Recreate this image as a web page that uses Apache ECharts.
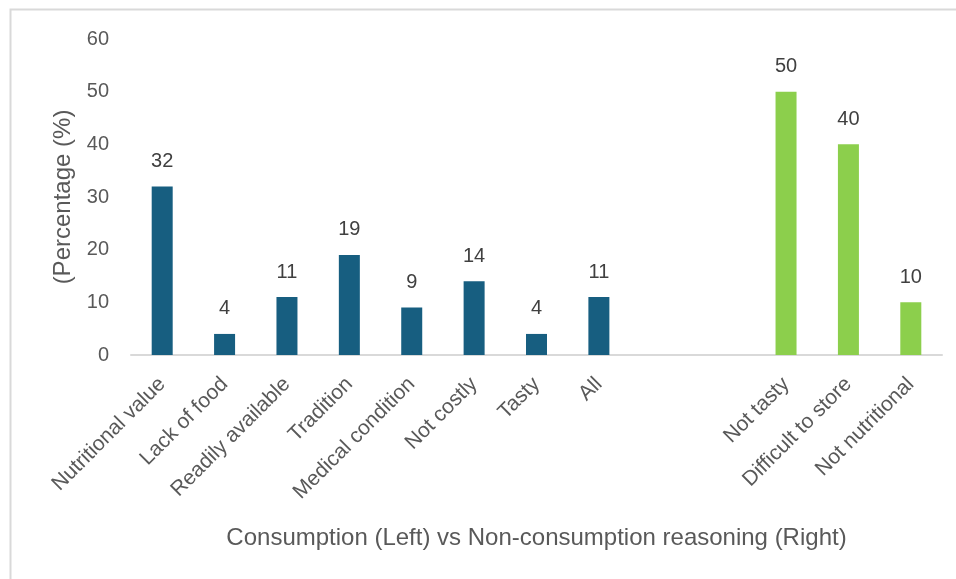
<!DOCTYPE html>
<html>
<head>
<meta charset="utf-8">
<script src="https://cdn.jsdelivr.net/npm/echarts@6/dist/echarts.min.js"></script>
<style>
  html, body { margin: 0; padding: 0; background: #ffffff; }
  #chart { width: 956px; height: 579px; }
</style>
</head>
<body>
<div id="chart"></div>
<script>
// Reasons given for consuming (left group) and not consuming (right group)
const categories = [
  'Nutritional value', 'Lack of food', 'Readily available', 'Tradition',
  'Medical condition', 'Not costly', 'Tasty', 'All',
  ' ', '  ',
  'Not tasty', 'Difficult to store', 'Not nutritional'
];
const consumptionValues = [32, 4, 11, 19, 9, 14, 4, 11, '-', '-', '-', '-', '-'];
const nonConsumptionValues = ['-', '-', '-', '-', '-', '-', '-', '-', '-', '-', 50, 40, 10];
const yTicks = { min: 0, max: 60, interval: 10 };

const textColor = '#595959';
const fontFamily = 'Liberation Sans, Arial, sans-serif';

const chart = echarts.init(document.getElementById('chart'), null, { renderer: 'canvas' });

const labelStyle = {
  show: true,
  position: 'top',
  distance: 15,
  color: '#404040',
  fontSize: 20,
  fontFamily: fontFamily
};

chart.setOption({
  animation: false,
  backgroundColor: '#ffffff',
  grid: { left: 131, right: 14, top: 39, bottom: 224, containLabel: false },
  xAxis: {
    type: 'category',
    data: categories,
    axisLine: { lineStyle: { color: '#d9d9d9', width: 2 } },
    axisTick: { show: false },
    axisLabel: {
      rotate: 45,
      interval: 0,
      margin: 26,
      color: textColor,
      fontSize: 21,
      fontFamily: fontFamily
    },
    name: 'Consumption (Left) vs Non-consumption reasoning (Right)',
    nameLocation: 'middle',
    nameGap: 171,
    nameTextStyle: { color: textColor, fontSize: 24, fontFamily: fontFamily }
  },
  yAxis: {
    type: 'value',
    min: yTicks.min,
    max: yTicks.max,
    interval: yTicks.interval,
    splitLine: { show: false },
    axisLine: { show: false },
    axisTick: { show: false },
    axisLabel: { margin: 22, color: textColor, fontSize: 20, fontFamily: fontFamily },
    name: '(Percentage (%)',
    nameLocation: 'middle',
    nameGap: 56,
    nameRotate: 90,
    nameTextStyle: { color: textColor, fontSize: 24, fontFamily: fontFamily }
  },
  series: [
    {
      name: 'Consumption',
      type: 'bar',
      stack: 'reasons',
      barWidth: 21,
      data: consumptionValues,
      itemStyle: { color: '#175e80' },
      label: labelStyle
    },
    {
      name: 'Non-consumption',
      type: 'bar',
      stack: 'reasons',
      barWidth: 21,
      data: nonConsumptionValues,
      itemStyle: { color: '#8ccf4c' },
      label: labelStyle
    }
  ],
  graphic: [
    {
      type: 'polyline',
      silent: true,
      shape: { points: [[10.5, 579], [10.5, 9.5], [956, 9.5]] },
      style: { stroke: '#d9d9d9', lineWidth: 2, fill: null }
    }
  ]
});
</script>
</body>
</html>
